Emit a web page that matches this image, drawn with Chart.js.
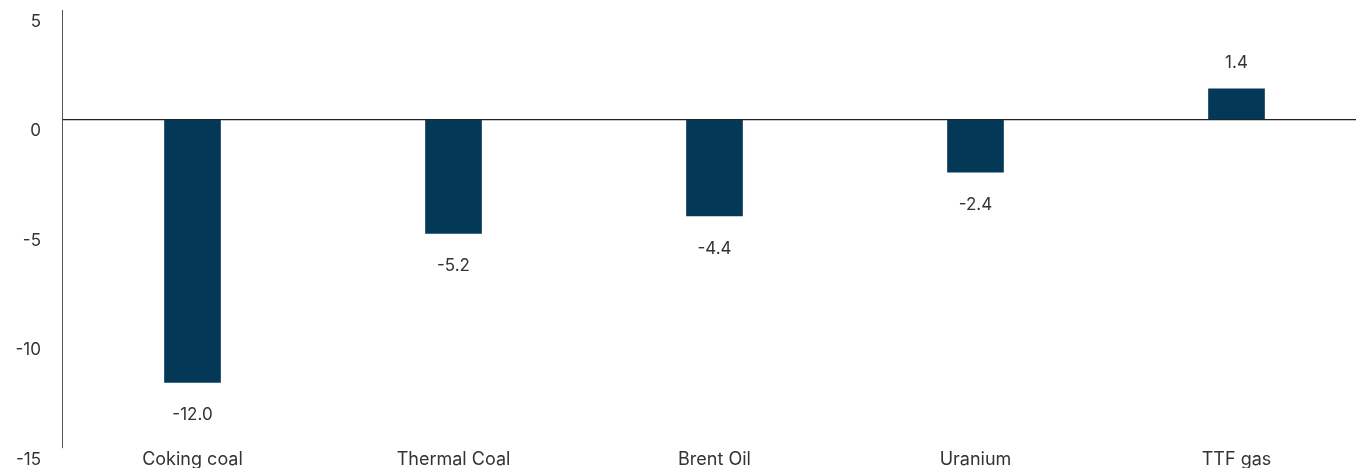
<!DOCTYPE html>
<html>
<head>
<meta charset="utf-8">
<script src="https://cdn.jsdelivr.net/npm/chart.js@4.4.1/dist/chart.umd.min.js"></script>
<style>
  html, body { margin: 0; padding: 0; background: #fff; overflow: hidden; }
  #wrap { position: relative; width: 1367px; height: 470px; }
</style>
</head>
<body>
<div id="wrap"><canvas id="c"></canvas></div>
<script>
const categories = ["Coking coal", "Thermal Coal", "Brent Oil", "Uranium", "TTF gas"];
const values = [-12.0, -5.2, -4.4, -2.4, 1.4];
const yTicks = [5, 0, -5, -10, -15];

const FONT = "Inter, 'Open Sans', sans-serif";
const TEXT = "#333333";

const labelPlugin = {
  id: 'valueLabels',
  afterDatasetsDraw(chart) {
    const ctx = chart.ctx;
    const meta = chart.getDatasetMeta(0);
    ctx.save();
    ctx.font = "17px " + FONT;
    ctx.fillStyle = TEXT;
    ctx.textAlign = 'center';
    ctx.textBaseline = 'middle';
    meta.data.forEach((bar, i) => {
      const v = values[i];
      const y = v >= 0 ? bar.y - 26 : bar.y + 33;
      ctx.fillText(v.toFixed(1), bar.x, y);
    });
    ctx.restore();
  }
};

new Chart(document.getElementById('c'), {
  type: 'bar',
  data: {
    labels: categories,
    datasets: [{
      data: values,
      backgroundColor: '#033856',
      barThickness: 56
    }]
  },
  options: {
    responsive: true,
    maintainAspectRatio: false,
    animation: false,
    layout: { padding: { top: 10, left: 0, right: 0, bottom: 0 } },
    plugins: { legend: { display: false }, tooltip: { enabled: false } },
    scales: {
      x: {
        afterFit(scale) { scale.height = 22; scale.paddingLeft = 0; scale.paddingRight = 0; },
        grid: { display: false, drawTicks: false },
        border: { display: false },
        ticks: { color: TEXT, font: { family: FONT, size: 18 }, padding: 1, maxRotation: 0 }
      },
      y: {
        min: -15, max: 5,
        afterFit(scale) { scale.width = 62; scale.paddingTop = 0; scale.paddingBottom = 0; },
        afterBuildTicks(scale) { scale.ticks = yTicks.map(v => ({ value: v })); },
        grid: {
          drawTicks: false,
          color: c => (c.tick && c.tick.value === 0) ? '#222222' : 'rgba(0,0,0,0)',
          lineWidth: 1.2
        },
        border: { display: true, color: '#555555', width: 1 },
        ticks: {
          color: TEXT, font: { family: FONT, size: 17 }, padding: 21, labelOffset: 11.5,
          callback: v => String(v)
        }
      }
    }
  },
  plugins: [labelPlugin]
});
</script>
</body>
</html>
